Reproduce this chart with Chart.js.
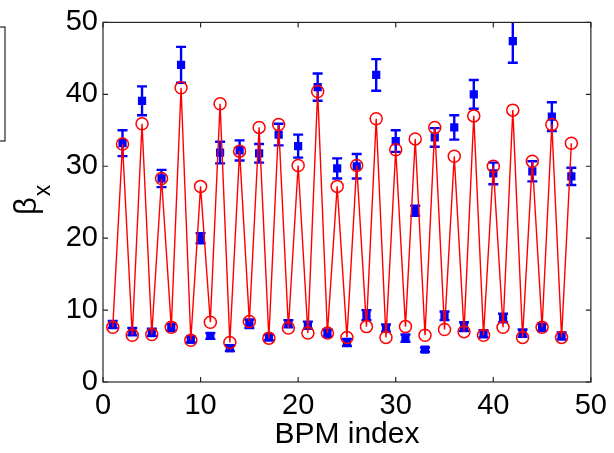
<!DOCTYPE html>
<html>
<head>
<meta charset="utf-8">
<script src="https://cdn.jsdelivr.net/npm/chart.js@4.4.1/dist/chart.umd.min.js"></script>
<style>
  html, body { margin: 0; padding: 0; background: #fff; }
  #wrap { width: 614px; height: 453px; }
</style>
</head>
<body>
<div id="wrap"><canvas id="betaChart"></canvas></div>
<script>
// BPM index 1..48
const bpm = [];
for (let i = 1; i <= 48; i++) bpm.push(i);

// model beta_x at each BPM (red circles)
const betaModel = [7.6, 33.1, 6.5, 35.9, 6.6, 28.3, 7.6, 40.9, 5.8, 27.2,
                   8.3, 38.7, 5.5, 32.1, 8.4, 35.4, 6.1, 35.8, 7.5, 30.1,
                   6.8, 40.4, 6.8, 27.2, 6.2, 30.1, 7.7, 36.6, 6.2, 32.3,
                   7.7, 33.8, 6.5, 35.4, 7.3, 31.4, 7.0, 37.0, 6.5, 30.0,
                   7.6, 37.8, 6.2, 30.7, 7.6, 35.8, 6.2, 33.2];

// measured beta_x (blue squares) and its error
const betaMeas = [8.0, 33.2, 7.0, 39.1, 6.9, 28.3, 7.6, 44.1, 5.9, 20.0,
                  6.4, 31.9, 4.7, 32.2, 8.1, 31.8, 6.2, 34.4, 8.1, 32.8,
                  7.9, 41.0, 6.8, 29.7, 5.5, 30.0, 9.3, 42.7, 7.5, 33.5,
                  6.1, 23.8, 4.5, 34.0, 9.2, 35.4, 7.7, 40.0, 6.7, 29.0,
                  8.9, 47.4, 6.8, 29.3, 7.6, 36.9, 6.4, 28.6];
const betaErr = [0.5, 1.8, 0.5, 2.0, 0.5, 1.2, 0.5, 2.5, 0.4, 0.7,
                 0.4, 1.5, 0.4, 1.4, 0.6, 1.3, 0.4, 1.5, 0.5, 1.6,
                 0.5, 1.9, 0.5, 1.4, 0.5, 1.7, 0.7, 2.2, 0.5, 1.5,
                 0.5, 0.7, 0.3, 1.3, 0.6, 1.7, 0.6, 2.0, 0.5, 1.5,
                 0.6, 3.0, 0.5, 1.4, 0.5, 2.0, 0.5, 1.2];

const xTicks = [0, 10, 20, 30, 40, 50];
const yTicks = [0, 10, 20, 30, 40, 50];

const FONT = '"Liberation Sans", Arial, sans-serif';

// error bars, drawn under the markers
const errorBars = {
    id: 'errorBars',
    beforeDatasetsDraw(chart) {
        const ctx = chart.ctx;
        const x = chart.scales.x, y = chart.scales.y;
        const a = chart.chartArea;
        ctx.save();
        ctx.beginPath();
        ctx.rect(a.left, a.top, a.right - a.left, a.bottom - a.top);
        ctx.clip();
        ctx.strokeStyle = '#0000ff';
        ctx.lineWidth = 2.4;
        bpm.forEach((b, i) => {
            const px = x.getPixelForValue(b);
            const lo = y.getPixelForValue(betaMeas[i] - betaErr[i]);
            const hi = y.getPixelForValue(betaMeas[i] + betaErr[i]);
            ctx.beginPath();
            ctx.moveTo(px, lo); ctx.lineTo(px, hi);
            ctx.moveTo(px - 5, lo); ctx.lineTo(px + 5, lo);
            ctx.moveTo(px - 5, hi); ctx.lineTo(px + 5, hi);
            ctx.stroke();
        });
        ctx.restore();
    }
};

// matlab-style box with inward ticks, y label and the clipped legend frame
const axesBox = {
    id: 'axesBox',
    afterDraw(chart) {
        const ctx = chart.ctx;
        const x = chart.scales.x, y = chart.scales.y;
        const a = chart.chartArea;
        ctx.save();
        ctx.strokeStyle = '#262626';
        ctx.lineWidth = 1.2;
        ctx.strokeRect(a.left, a.top, a.right - a.left, a.bottom - a.top);
        ctx.beginPath();
        xTicks.forEach(t => {
            const px = x.getPixelForValue(t);
            ctx.moveTo(px, a.bottom); ctx.lineTo(px, a.bottom - 5);
            ctx.moveTo(px, a.top); ctx.lineTo(px, a.top + 5);
        });
        yTicks.forEach(t => {
            const py = y.getPixelForValue(t);
            ctx.moveTo(a.left, py); ctx.lineTo(a.left + 5, py);
            ctx.moveTo(a.right, py); ctx.lineTo(a.right - 5, py);
        });
        ctx.stroke();

        // legend frame, mostly outside the picture
        ctx.strokeRect(-10, 27, 15, 114);

        // y title: beta with subscript x
        ctx.fillStyle = '#000';
        ctx.translate(36, 215);
        ctx.rotate(-Math.PI / 2);
        ctx.textBaseline = 'alphabetic';
        ctx.textAlign = 'left';
        ctx.font = '31px ' + FONT;
        ctx.fillText('β', 0, 0);
        const w = ctx.measureText('β').width;
        ctx.font = '23px ' + FONT;
        ctx.fillText('x', w + 1, 14);
        ctx.restore();
    }
};

new Chart(document.getElementById('betaChart'), {
    type: 'line',
    data: {
        datasets: [
            {
                label: 'model',
                data: bpm.map((b, i) => ({ x: b, y: betaModel[i] })),
                borderColor: '#ff0000',
                borderWidth: 1.4,
                backgroundColor: 'rgba(0,0,0,0)',
                pointStyle: 'circle',
                pointRadius: 6,
                pointBorderWidth: 1.5,
                pointBorderColor: '#ff0000',
                pointBackgroundColor: 'rgba(0,0,0,0)',
                tension: 0,
                order: 0
            },
            {
                label: 'measured',
                data: bpm.map((b, i) => ({ x: b, y: betaMeas[i] })),
                showLine: false,
                pointStyle: 'rect',
                pointRadius: 4.4,
                pointBorderWidth: 2,
                pointBorderColor: '#0000ff',
                pointBackgroundColor: '#0000ff',
                order: 1
            }
        ]
    },
    options: {
        responsive: true,
        maintainAspectRatio: false,
        animation: false,
        events: [],
        clip: false,
        layout: { padding: { left: 0, right: 18, top: 20, bottom: 0 } },
        plugins: { legend: { display: false }, tooltip: { enabled: false } },
        scales: {
            x: {
                type: 'linear',
                min: 0, max: 50,
                grid: { display: false, drawTicks: false },
                border: { display: false },
                afterBuildTicks(s) { s.ticks = xTicks.map(v => ({ value: v })); },
                afterFit(s) { s.height = 71; },
                ticks: {
                    padding: 7,
                    color: '#000',
                    maxRotation: 0,
                    font: { family: FONT, size: 29 }
                },
                title: {
                    display: true,
                    text: 'BPM index',
                    color: '#000',
                    padding: 0,
                    font: { family: FONT, size: 30, lineHeight: 1.2 }
                }
            },
            y: {
                type: 'linear',
                min: 0, max: 50,
                grid: { display: false, drawTicks: false },
                border: { display: false },
                afterBuildTicks(s) { s.ticks = yTicks.map(v => ({ value: v })); },
                afterFit(s) { s.width = 103; },
                ticks: {
                    padding: 5,
                    color: '#000',
                    font: { family: FONT, size: 29 }
                }
            }
        }
    },
    plugins: [errorBars, axesBox]
});
</script>
</body>
</html>
